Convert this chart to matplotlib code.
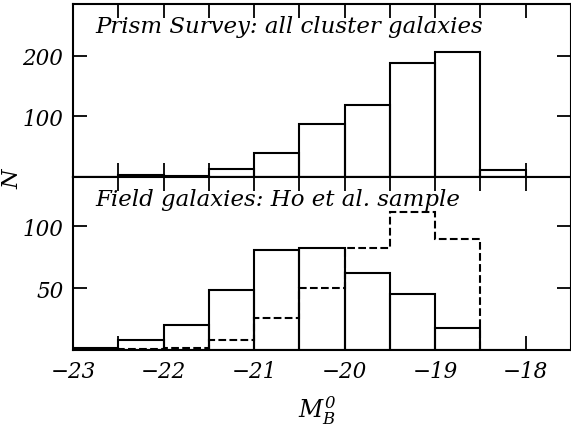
import numpy as np
import matplotlib
matplotlib.use("Agg")
import matplotlib.pyplot as plt
from matplotlib.ticker import MultipleLocator

plt.rcParams['font.family'] = 'DejaVu Serif'
plt.rcParams['font.style'] = 'italic'
plt.rcParams['mathtext.fontset'] = 'dejavuserif'

# bin edges (absolute magnitude M_B^0), 0.5 mag bins
edges = np.arange(-23.0, -17.99, 0.5)

# top panel: prism survey, all cluster galaxies
n_cluster = [0, 3, 1.5, 14, 40, 88, 118, 187, 206, 12]

# bottom panel: field galaxies (Ho et al.)
n_field = [1.5, 8, 20, 48.5, 81, 82.5, 62.5, 45, 18, 0]
n_field_dash = [0, 1, 2, 8, 25.5, 50, 82.5, 112, 89.5, 0]

fig = plt.figure(figsize=(5.71, 4.31), dpi=100)
ax1 = fig.add_axes([0.128, 0.587, 0.872, 0.4014])
ax2 = fig.add_axes([0.128, 0.1856, 0.872, 0.4014])

lw = 1.5
ax1.bar(edges[:-1], n_cluster, width=0.5, align='edge', fill=False,
        edgecolor='k', linewidth=lw)
ax2.bar(edges[:-1], n_field, width=0.5, align='edge', fill=False,
        edgecolor='k', linewidth=lw)
ax2.stairs(n_field_dash[1:9], edges[1:10], color='k', linestyle='--',
           linewidth=lw)

ax1.set_ylim(0, 285)
ax2.set_ylim(0, 140)
for ax in (ax1, ax2):
    ax.set_xlim(-23, -17.5)
    ax.xaxis.set_major_locator(MultipleLocator(1))
    ax.xaxis.set_minor_locator(MultipleLocator(0.5))
    ax.tick_params(which='both', direction='in', top=True, right=True,
                   length=10, width=1.3, labelsize=15.5, pad=7)
    for s in ax.spines.values():
        s.set_linewidth(lw)

ax1.set_yticks([100, 200])
ax2.set_yticks([50, 100])
ax1.tick_params(labelbottom=False)

ax1.text(0.045, 0.87, 'Prism Survey: all cluster galaxies',
         transform=ax1.transAxes, fontsize=16.5, va='center', ha='left')
ax2.text(0.045, 0.87, 'Field galaxies: Ho et al. sample',
         transform=ax2.transAxes, fontsize=16.5, va='center', ha='left')

fig.text(0.022, 0.585, 'N', rotation=90, fontsize=16, va='center', ha='center')
fig.text(0.556, 0.01, r'$M_B^0$', fontsize=17, va='bottom', ha='center')

fig.savefig('out.png', dpi=100)
